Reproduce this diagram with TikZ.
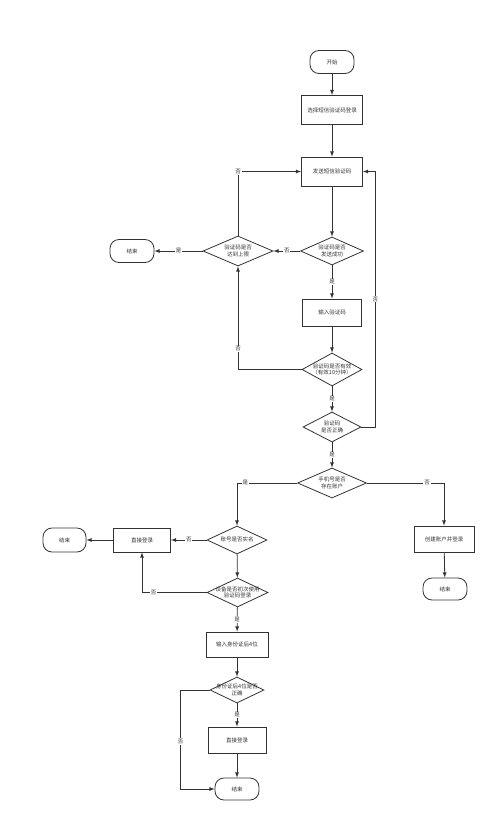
\documentclass[tikz,border=0pt]{standalone}
\usepackage{fontspec}
\setmainfont{Noto Sans CJK SC}
\usetikzlibrary{shapes.geometric}
\definecolor{ln}{HTML}{333333}
\newcommand{\dtxt}[1]{\smash{\makebox[0pt]{\raisebox{-0.3em}{\renewcommand{\arraystretch}{0.8}\begin{tabular}{@{}c@{}}#1\end{tabular}}}}}
\tikzset{
	box/.style={draw=ln, line width=0.8pt, minimum width=60pt, minimum height=28pt, inner sep=0pt, font=\fontsize{5.5}{6.5}\selectfont, text=ln},
	term/.style={box, rounded corners=9pt, minimum width=44pt, minimum height=23pt},
	decision/.style={diamond, draw=ln, line width=0.8pt, inner sep=0pt, font=\fontsize{5.5}{6.5}\selectfont, text=ln},
	lbl/.style={fill=white, inner sep=0.8pt, font=\fontsize{5.5}{6}\selectfont, text=ln},
	flow/.style={draw=ln, line width=0.8pt, -latex},
}
\begin{document}
\begin{tikzpicture}[x=1pt, y=-1pt]
			\useasboundingbox (0, 0) rectangle (500, 827);
			\node[term] (start) at (332, 62) {开始};
			\node[box, minimum width=61pt, minimum height=29pt] (sel) at (332, 110) {选择短信验证码登录};
			\node[box, minimum width=61pt, minimum height=29pt] (send) at (332, 171.5) {发送短信验证码};
			\node[decision, minimum width=63pt, minimum height=28pt] (sent) at (332, 251) {\dtxt{验证码是否\\发送成功}};
			\node[decision, minimum width=70pt, minimum height=30pt] (limit) at (238, 251) {\dtxt{验证码是否\\达到上限}};
			\node[term] (endA) at (132, 251) {结束};
			\node[box, minimum width=59pt, minimum height=27pt] (input) at (332, 312.5) {输入验证码};
			\node[decision, minimum width=60pt, minimum height=33pt] (valid) at (332, 369.5) {\dtxt{验证码是否有效\\（有效10分钟）}};
			\node[decision, minimum width=58pt, minimum height=30pt] (right) at (332, 427) {\dtxt{验证码\\是否正确}};
			\node[decision, minimum width=69pt, minimum height=30pt] (exist) at (332, 483) {\dtxt{手机号是否\\存在账户}};
			\node[box, minimum width=60pt, minimum height=26pt] (create) at (444, 539) {创建账户并登录};
			\node[term, minimum height=22pt] (endB) at (445, 589) {结束};
			\node[decision, minimum width=60pt, minimum height=28pt] (real) at (237, 540) {\dtxt{账号是否实名}};
			\node[box, minimum width=57pt, minimum height=24pt] (directA) at (142, 540) {直接登录};
			\node[term, minimum width=43pt, minimum height=24pt] (endC) at (64.5, 540) {结束};
			\node[decision, minimum width=61pt, minimum height=29pt] (first) at (237.5, 592.5) {\dtxt{设备是否初次使用\\验证码登录}};
			\node[box, minimum width=62pt, minimum height=25pt] (idin) at (237, 644.5) {输入身份证后4位};
			\node[decision, minimum width=54pt, minimum height=26pt] (idok) at (237, 690) {\dtxt{身份证后4位是否\\正确}};
			\node[box, minimum width=58pt, minimum height=26pt] (directB) at (237, 740) {直接登录};
			\node[term, minimum height=22pt] (endD) at (237, 789) {结束};
			\draw[flow] (start) -- (sel);
			\draw[flow] (sel) -- (send);
			\draw[flow] (send) -- (sent);
			\draw[flow] (sent) -- node[lbl]{否} (limit);
			\draw[flow] (limit) -- node[lbl]{是} (endA);
			\draw[flow] (limit.north) |- node[lbl, pos=0.5]{否} (send.west);
			\draw[flow] (sent) -- node[lbl]{是} (input);
			\draw[flow] (input) -- (valid);
			\draw[flow] (valid.west) -| node[lbl, pos=0.6]{否} (limit.south);
			\draw[flow] (valid) -- node[lbl]{是} (right);
			\draw[flow] (right.east) -- ++(14, 0) |- node[lbl, pos=0.25]{否} (send.east);
			\draw[flow] (right) -- node[lbl]{是} (exist);
			\draw[flow] (exist.west) -| node[lbl, pos=0.43]{是} (real.north);
			\draw[flow] (exist.east) -| node[lbl, pos=0.39]{否} (create.north);
			\draw[flow] (create) -- (endB);
			\draw[flow] (real) -- node[lbl]{否} (directA);
			\draw[flow] (directA) -- (endC);
			\draw[flow] (real) -- (first);
			\draw[flow] (first.west) -| node[lbl, pos=0.41]{否} (directA.south);
			\draw[flow] (first) -- node[lbl]{是} (idin);
			\draw[flow] (idin) -- (idok);
			\draw[flow] (idok) -- node[lbl]{是} (directB);
			\draw[flow] (directB) -- (endD);
			\draw[flow] (idok.west) -- ++(-29, 0) |- node[lbl, pos=0.26]{否} (endD.west);
		\end{tikzpicture}
\end{document}
